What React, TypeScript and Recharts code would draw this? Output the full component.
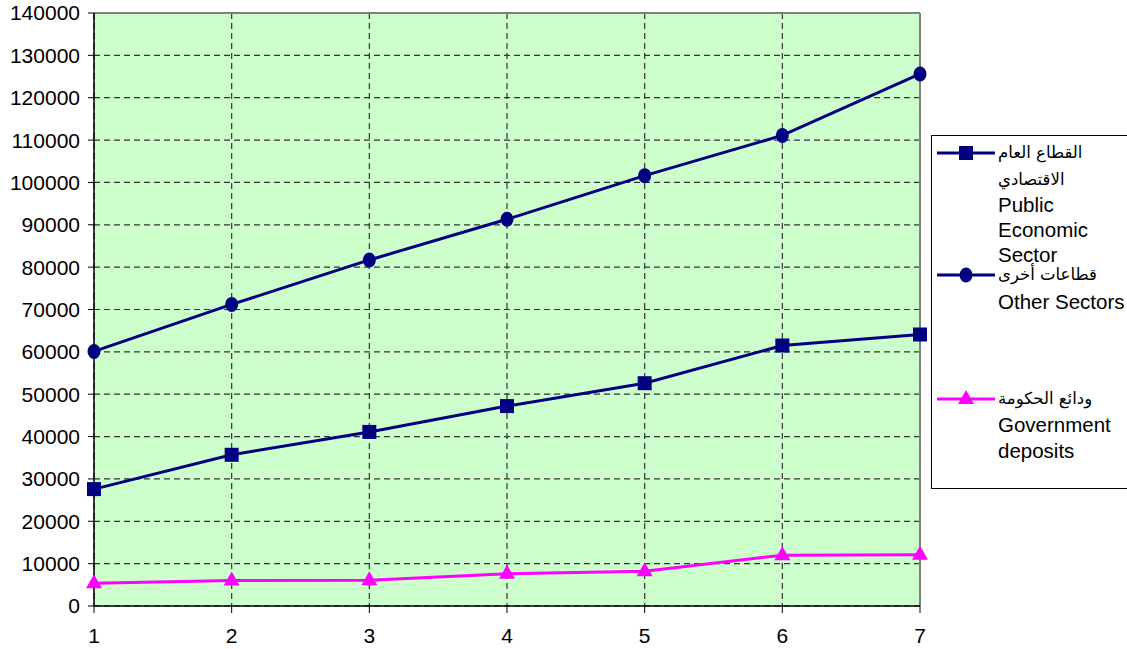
import React from "react";
import {
  LineChart,
  Line,
  XAxis,
  YAxis,
  CartesianGrid,
  ReferenceLine,
} from "recharts";

const categories = [1, 2, 3, 4, 5, 6, 7];
const publicSector = [27600, 35700, 41100, 47200, 52600, 61500, 64100];
const otherSectors = [60100, 71200, 81700, 91300, 101600, 111100, 125600];
const govDeposits = [5400, 6000, 6100, 7600, 8200, 12000, 12100];
const yTicks = [0, 10000, 20000, 30000, 40000, 50000, 60000, 70000, 80000, 90000, 100000, 110000, 120000, 130000, 140000];

const NAVY = "#000080";
const MAGENTA = "#FF00FF";
const FONT = "'Liberation Sans', Arial, 'DejaVu Sans', sans-serif";

const rows = categories.map((c, i) => ({
  x: c,
  pub: publicSector[i],
  other: otherSectors[i],
  gov: govDeposits[i],
}));

// legend text per series, one line each
const legendLines = [
  ["القطاع العام", "الاقتصادي", "Public", "Economic", "Sector"],
  ["قطاعات أخرى", "Other Sectors"],
  ["ودائع الحكومة", "Government", "deposits"],
];
// vertical centre of each legend line, relative to the legend box
const legendLineY = [
  [17, 44, 69, 94, 119],
  [139, 166],
  [263, 289, 315],
];

const SquareDot = (props: any) => {
  const { cx, cy, index } = props;
  if (cx == null || cy == null) return null;
  return <rect key={index} x={cx - 7} y={cy - 7} width={14} height={14} fill={NAVY} />;
};

const CircleDot = (props: any) => {
  const { cx, cy, index } = props;
  if (cx == null || cy == null) return null;
  return <ellipse key={index} cx={cx} cy={cy} rx={6.5} ry={7.5} fill={NAVY} />;
};

const TriangleDot = (props: any) => {
  const { cx, cy, index } = props;
  if (cx == null || cy == null) return null;
  return (
    <polygon
      key={index}
      points={`${cx},${cy - 9} ${cx + 8},${cy + 5} ${cx - 8},${cy + 5}`}
      fill={MAGENTA}
    />
  );
};

function Marker({ kind, color, y }: { kind: string; color: string; y: number }) {
  return (
    <svg width={60} height={20} style={{ position: "absolute", left: 5, top: y - 10 }}>
      <line x1={0} y1={10} x2={58} y2={10} stroke={color} strokeWidth={3} />
      {kind === "square" && <rect x={22} y={3} width={14} height={14} fill={color} />}
      {kind === "circle" && <ellipse cx={29} cy={10} rx={6.5} ry={7.5} fill={color} />}
      {kind === "triangle" && <polygon points="29,1 37,15 21,15" fill={color} />}
    </svg>
  );
}

const isArabic = (t: string) => /[\u0600-\u06FF]/.test(t);

function LegendBox() {
  const kinds = ["square", "circle", "triangle"];
  const colors = [NAVY, NAVY, MAGENTA];
  return (
    <div
      style={{
        position: "absolute",
        left: 931,
        top: 135,
        width: 200,
        height: 352,
        border: "1px solid #000",
        background: "#fff",
        fontFamily: FONT,
        color: "#000",
      }}
    >
      {legendLines.map((lines, i) => (
        <React.Fragment key={i}>
          <Marker kind={kinds[i]} color={colors[i]} y={legendLineY[i][0]} />
          {lines.map((t, j) => (
            <div
              key={j}
              dir="auto"
              style={{
                position: "absolute",
                left: 66,
                top: legendLineY[i][j] - 10,
                whiteSpace: "nowrap",
                textAlign: "left",
                lineHeight: "20px",
                fontSize: isArabic(t) ? 16.5 : 20.5,
                fontFamily: isArabic(t) ? "'DejaVu Sans', sans-serif" : FONT,
              }}
            >
              {t}
            </div>
          ))}
        </React.Fragment>
      ))}
    </div>
  );
}

export default function App() {
  return (
    <div style={{ position: "fixed", left: 0, top: 0, width: 1127, height: 649, background: "#fff", overflow: "hidden" }}>
      <LineChart
        width={1127}
        height={649}
        data={rows}
        margin={{ top: 13, right: 207, bottom: 0, left: 0 }}
      >
        <CartesianGrid
          fill="#CCFFCC"
          stroke="#333"
          strokeDasharray="6 4"
          strokeWidth={1.2}
        />
        <XAxis
          dataKey="x"
          height={43}
          tick={{ fill: "#000", fontSize: 21, fontFamily: FONT }}
          tickSize={7}
          tickMargin={15}
          axisLine={{ stroke: "#000", strokeWidth: 1.5 }}
          tickLine={{ stroke: "#000" }}
        />
        <YAxis
          width={94}
          domain={[0, 140000]}
          ticks={yTicks}
          interval={0}
          tick={{ fill: "#000", fontSize: 21, fontFamily: FONT }}
          tickSize={6}
          tickMargin={8}
          axisLine={{ stroke: "#000", strokeWidth: 1.5 }}
          tickLine={{ stroke: "#000" }}
        />
        <ReferenceLine y={140000} stroke="#808080" strokeWidth={2} />
        <ReferenceLine x={7} stroke="#808080" strokeWidth={2} />
        <Line
          dataKey="other"
          stroke={NAVY}
          strokeWidth={3}
          dot={<CircleDot />}
          isAnimationActive={false}
        />
        <Line
          dataKey="pub"
          stroke={NAVY}
          strokeWidth={3}
          dot={<SquareDot />}
          isAnimationActive={false}
        />
        <Line
          dataKey="gov"
          stroke={MAGENTA}
          strokeWidth={3}
          dot={<TriangleDot />}
          isAnimationActive={false}
        />
      </LineChart>
      <LegendBox />
    </div>
  );
}
